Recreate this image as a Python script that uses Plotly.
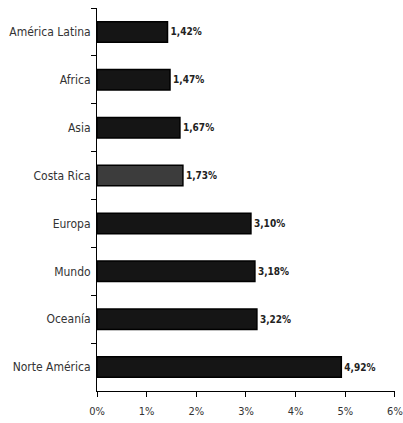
import plotly.graph_objects as go

categories = ["América Latina", "Africa", "Asia", "Costa Rica", "Europa", "Mundo", "Oceanía", "Norte América"]
values = [1.42, 1.47, 1.67, 1.73, 3.10, 3.18, 3.22, 4.92]
x_ticks = [0, 1, 2, 3, 4, 5, 6]
x_tick_labels = ["0%", "1%", "2%", "3%", "4%", "5%", "6%"]

labels = [f"{v:.2f}%".replace(".", ",") for v in values]
colors = ["#3c3c3c" if c == "Costa Rica" else "#151515" for c in categories]

font_narrow = "DejaVu Sans Condensed, Liberation Sans Narrow, sans-serif"

fig = go.Figure(go.Bar(
    x=values, y=categories, orientation="h",
    marker=dict(color=colors, line=dict(color="#000000", width=1.5)),
    text=labels, textposition="outside", cliponaxis=False,
    textfont=dict(family=font_narrow, size=10, color="#222222", weight="bold"),
))

fig.update_layout(
    width=403, height=423,
    margin=dict(l=97, r=8, t=8, b=32, autoexpand=False),
    paper_bgcolor="white", plot_bgcolor="white",
    bargap=0.57,
    showlegend=False,
    font=dict(family=font_narrow, color="#333333"),
)
fig.update_xaxes(
    range=[0, 6.001], tickvals=x_ticks, ticktext=x_tick_labels,
    showgrid=False, zeroline=False, automargin=False,
    showline=True, linecolor="#000000", linewidth=1,
    ticks="outside", ticklen=5, tickcolor="#000000",
    tickfont=dict(size=11, color="#333333"),
    ticklabelstandoff=5,
)
fig.update_yaxes(
    autorange="reversed", showgrid=False, automargin=False,
    showline=True, linecolor="#000000", linewidth=1,
    ticks="outside", ticklen=5, tickcolor="#000000", tickson="boundaries",
    tickfont=dict(size=12, color="#333333"),
    ticklabelstandoff=3,
)

fig.write_html("out.html")
